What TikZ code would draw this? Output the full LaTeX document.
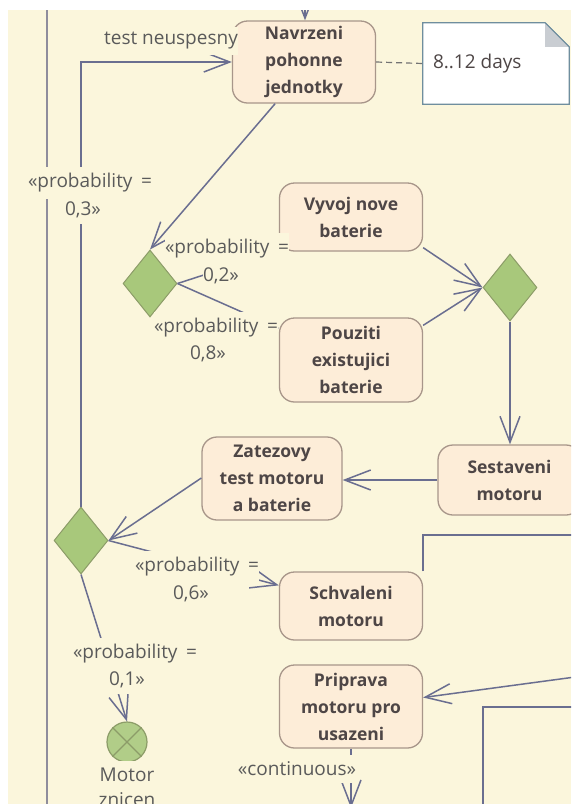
\documentclass[tikz,border=0pt]{standalone}
\usepackage{fontspec}
\setmainfont{Open Sans}
\usetikzlibrary{arrows.meta,shapes.geometric,calc}
\definecolor{bgc}{HTML}{FBF6DC}
\definecolor{nodef}{HTML}{FDEDD8}
\definecolor{nodeb}{HTML}{A8968A}
\definecolor{ntext}{HTML}{4E4646}
\definecolor{ltext}{HTML}{5A5A5A}
\definecolor{decf}{HTML}{A8C87B}
\definecolor{decb}{HTML}{8C9C68}
\definecolor{edgec}{HTML}{6A6E90}
\definecolor{lanec}{HTML}{8F8D9C}
\definecolor{notec}{HTML}{6F8E9E}
\definecolor{foldc}{HTML}{C9CDD2}
\newcommand{\probtxt}{«probability\hspace{0.45em}=}
\begin{document}
\begin{tikzpicture}[x=1pt,y=-1pt,
  act/.style={draw=nodeb, fill=nodef, rounded corners=15pt, line width=1.3pt,
    minimum width=143pt, inner sep=0pt, align=center,
    font=\bfseries\fontsize{17.5}{27}\selectfont, text=ntext},
  dec/.style={diamond, draw=decb, fill=decf, line width=1pt,
    minimum width=54pt, minimum height=67pt, inner sep=0pt},
  edge/.style={draw=edgec, line width=1.5pt, -{Straight Barb[length=26pt,width=20pt]}},
  smalledge/.style={draw=edgec, line width=1.5pt, -{Straight Barb[length=19pt,width=15pt]}},
  plain/.style={draw=edgec, line width=1.5pt},
  lbl/.style={fill=bgc, inner sep=0pt, minimum height=28pt, text=ltext,
    font=\fontsize{19}{27}\selectfont},
  lblA/.style={lbl, minimum height=32pt},
]
\useasboundingbox (0,0) rectangle (571,804);
\fill[white] (0,0) rectangle (571,804);
\fill[bgc] (8,10) rectangle (571,804);
\clip (8,10) rectangle (571,804);

% swimlane line
\coordinate (laneT) at (47,0);
\coordinate (laneB) at (47,820);
\draw[lanec, line width=2pt] (laneT) -- (laneB);

% activities
\node[act, minimum height=82pt] (nav) at (304,62) {Navrzeni\\pohonne\\jednotky};
\node[act, minimum height=68pt] (vyv) at (351,217) {Vyvoj nove\\baterie};
\node[act, minimum height=84pt] (pou) at (351,360) {Pouziti\\existujici\\baterie};
\node[act, minimum height=70pt] (ses) at (509.5,480) {Sestaveni\\motoru};
\node[act, minimum height=83pt, minimum width=140pt] (zat) at (272,478.5) {Zatezovy\\test motoru\\a baterie};
\node[act, minimum height=68pt] (sch) at (351,606) {Schvaleni\\motoru};
\node[act, minimum height=83pt] (pri) at (351,706.5) {Priprava\\motoru pro\\usazeni};

% decisions
\node[dec] (d1) at (150,283.5) {};
\node[dec] (d2) at (510,287.5) {};
\node[dec] (d3) at (81,540.5) {};

% flow final
\node[circle, draw=decb, fill=decf!90!white, line width=1.2pt, minimum size=40pt, inner sep=0pt] (fin) at (127,742) {};
\draw[decb, line width=1.2pt] (fin.north west) -- (fin.south east) (fin.north east) -- (fin.south west);

% note
\node[minimum width=146pt, minimum height=81pt, inner sep=0pt] (note) at (496,63.5) {};
\draw[notec, fill=white, line width=1.2pt] (note.north west) -- ($(note.north east)+(-24,0)$) -- ($(note.north east)+(0,24)$) -- (note.south east) -- (note.south west) -- cycle;
\fill[foldc] ($(note.north east)+(-24,0)$) -- ($(note.north east)+(-24,24)$) -- ($(note.north east)+(0,24)$) -- cycle;
\draw[notec, line width=1pt] ($(note.north east)+(-24,0)$) -- ($(note.north east)+(0,24)$);
\node[anchor=west, inner sep=0pt, text=ntext, font=\fontsize{19}{27}\selectfont] (notetxt) at ($(note.west)+(10,0)$) {8..12 days};
\draw[gray!90!black, line width=1.2pt, dash pattern=on 6pt off 4pt] (nav.east) -- (note.west);

% free ends
\coordinate (topin) at (305,0);
\coordinate (offA) at (590,535);
\coordinate (offB) at (590,675);
\coordinate (offC) at (351,808);
\coordinate (bx1) at (600,707);
\coordinate (bx2) at (483,830);

% connectors
\draw[edge] (topin) -- (nav.north -| topin);
\draw[edge] (d3.north) |- (nav.west);
\draw[edge] ($(nav.south west)!0.3!(nav.south east)$) -- (d1.north);
\draw[smalledge] (d1.east) -- ($(vyv.south west)+(0,-1)$);
\draw[smalledge] (d1.east) -- ($(pou.north west)+(0,11)$);
\draw[edge] ($(vyv.south east)+(0,-4)$) -- (d2.west);
\draw[edge] ($(pou.north east)+(0,8)$) -- (d2.west);
\draw[edge] (d2.south) -- (d2.south |- ses.north);
\draw[edge] (ses.west) -- (ses.west -| zat.east);
\draw[edge] ($(zat.west)+(0,-0.5)$) -- (d3.east);
\draw[edge] (d3.east) -- ($(sch.north west)+(0,14)$);
\draw[edge] (d3.south) -- (fin.north);
\draw[plain] (sch.north east) |- (offA);
\draw[edge] (offB) -- ($(pri.east)+(0,-9)$);
\draw[edge] (pri.south) -- (offC);
\draw[plain] (bx1) -| (bx2);

% labels
\node[lbl] (tn) at (171,41) {test neuspesny};
\node[lblA] (p3a) at (90,183) {\probtxt};
\node[lbl] (p3b) at (83,210) {0,3»};
\node[lblA] (p2a) at (227,249) {\probtxt};
\node[lbl] (p2b) at (221,276) {0,2»};
\node[lblA] (p8a) at (216,328) {\probtxt};
\node[lbl] (p8b) at (208,354) {0,8»};
\node[lblA] (p6a) at (197,567) {\probtxt};
\node[lbl] (p6b) at (191,594) {0,6»};
\node[lblA] (p1a) at (135,654) {\probtxt};
\node[lbl] (p1b) at (127,680) {0,1»};
\node[lbl] (cont) at (297,769) {«continuous»};
\node[lbl] (mz1) at (127,775) {Motor};
\node[lbl] (mz2) at (127,800) {znicen};
\end{tikzpicture}
\end{document}
